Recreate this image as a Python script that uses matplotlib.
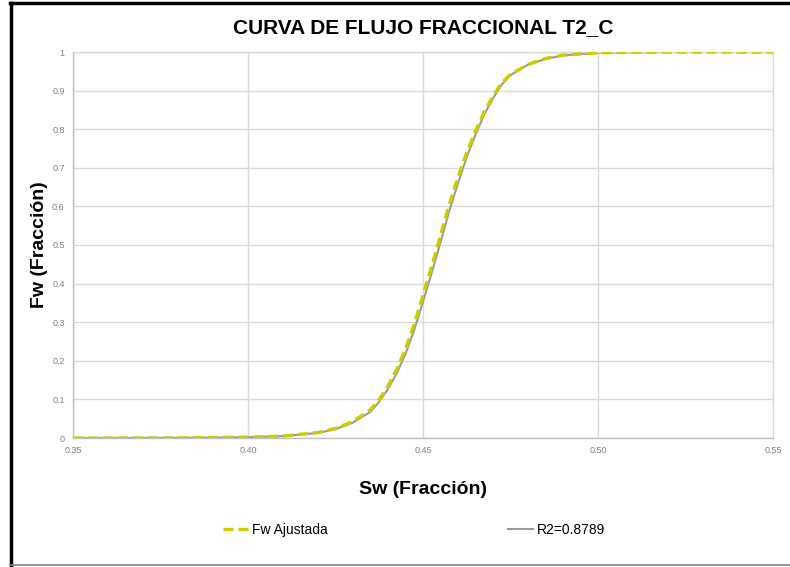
import matplotlib
matplotlib.use("Agg")
import matplotlib.pyplot as plt
from matplotlib.lines import Line2D

# datos
sw = [0.35, 0.38, 0.40, 0.41, 0.42, 0.425, 0.43, 0.435, 0.4375, 0.44,
      0.4425, 0.445, 0.4475, 0.45, 0.4525, 0.455, 0.4575, 0.46, 0.4625,
      0.465, 0.4675, 0.47, 0.4725, 0.475, 0.48, 0.485, 0.49, 0.50, 0.52, 0.55]
fw_ajustada = [0.0, 0.0003, 0.002, 0.005, 0.014, 0.025, 0.043, 0.073, 0.10,
               0.135, 0.178, 0.23, 0.295, 0.37, 0.445, 0.525, 0.605, 0.675,
               0.74, 0.795, 0.845, 0.885, 0.92, 0.942, 0.968, 0.983, 0.992,
               0.998, 1.0, 1.0]
fw_r2 = [0.0, 0.0003, 0.002, 0.005, 0.013, 0.023, 0.040, 0.068, 0.094,
         0.127, 0.168, 0.218, 0.28, 0.353, 0.428, 0.507, 0.588, 0.66,
         0.728, 0.786, 0.838, 0.88, 0.916, 0.94, 0.967, 0.982, 0.991,
         0.998, 1.0, 1.0]

x_ticks = [0.35, 0.40, 0.45, 0.50, 0.55]
y_ticks = [0, 0.1, 0.2, 0.3, 0.4, 0.5, 0.6, 0.7, 0.8, 0.9, 1]

plt.rcParams['font.family'] = ['Liberation Sans', 'DejaVu Sans']

fig = plt.figure(figsize=(7.9, 5.67), dpi=100)
ax = fig.add_axes([73/790, 1 - 438/567, 700/790, 386/567])

ax.plot(sw, fw_r2, color='#9a9a9a', lw=1.5, label='R2=0.8789', zorder=2)
ax.plot(sw, fw_ajustada, color='#cccc00', lw=2.4, ls=(0, (3, 1.5)),
        label='Fw Ajustada', zorder=3)

ax.set_xlim(0.35, 0.55)
ax.set_ylim(0, 1)
ax.set_xticks(x_ticks)
ax.set_xticklabels(['%.2f' % v for v in x_ticks])
ax.set_yticks(y_ticks)
ax.set_yticklabels(['0', '0.1', '0.2', '0.3', '0.4', '0.5', '0.6', '0.7',
                    '0.8', '0.9', '1'])
ax.tick_params(length=0, labelsize=6.5, labelcolor='#808080', pad=6)
ax.grid(True, color='#d9d9d9', lw=1)
ax.set_axisbelow(True)
for s in ax.spines.values():
    s.set_color('#d9d9d9')
    s.set_linewidth(1)
ax.spines['left'].set_color('#bfbfbf')
ax.spines['bottom'].set_color('#bfbfbf')

fig.text(423/790, 1 - 28/567, 'CURVA DE FLUJO FRACCIONAL T2_C', ha='center',
         va='center', fontsize=15, fontweight='bold')
fig.text(423/790, 1 - 490/567, 'Sw (Fracción)', ha='center', va='center',
         fontsize=14, fontweight='bold')
fig.text(40/790, 1 - 245/567, 'Fw (Fracción)', ha='center', va='center',
         fontsize=14, fontweight='bold', rotation=90)

h, l = ax.get_legend_handles_labels()
fig.legend([h[1], h[0]], [l[1], l[0]], loc='center',
           bbox_to_anchor=(414/790, 1 - 530/567), ncol=2, frameon=False,
           fontsize=10, handlelength=1.8, handletextpad=0.3,
           columnspacing=13)

# marco de la imagen
fig.add_artist(Line2D([11/790, 11/790], [0, 1 - 3/567], color='black', lw=2.5,
                      transform=fig.transFigure))
fig.add_artist(Line2D([10/790, 1], [1 - 3/567, 1 - 3/567], color='black',
                      lw=2.5, transform=fig.transFigure))
fig.add_artist(Line2D([10/790, 1], [1 - 565/567, 1 - 565/567],
                      color='#808080', lw=1.2, transform=fig.transFigure))

fig.savefig('out.png', dpi=100)
